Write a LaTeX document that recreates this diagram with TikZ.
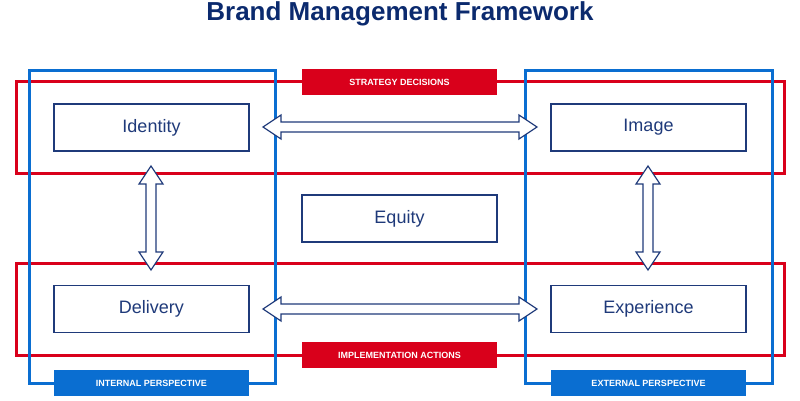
\documentclass[tikz,border=0pt]{standalone}
\usepackage{fontspec}
\setmainfont{Liberation Sans}
\begin{document}
\begin{tikzpicture}[x=1pt,y=-1pt,
  navy/.style={draw=navyc,line width=1.2pt,fill=white},
  box/.style={draw=navyc,line width=1.5pt,fill=white,minimum width=195pt,minimum height=47pt,text=navyc,font=\fontsize{18}{21}\selectfont,inner sep=0pt},
  redlab/.style={fill=redc,text=white,minimum width=195pt,minimum height=26pt,font=\bfseries\fontsize{9}{10}\selectfont,inner sep=0pt},
  bluelab/.style={fill=bluec,text=white,minimum width=195pt,minimum height=26pt,font=\bfseries\fontsize{9}{10}\selectfont,inner sep=0pt},
  redframe/.style={draw=redc,line width=3pt},
  blueframe/.style={draw=bluec,line width=3pt}]
\definecolor{navyc}{HTML}{1F3A7A}
\definecolor{redc}{HTML}{D9001B}
\definecolor{bluec}{HTML}{0A6ED1}
\definecolor{titlec}{HTML}{0B2A6E}
\useasboundingbox (0,0) rectangle (800,400);
\node[font=\bfseries\fontsize{26}{30}\selectfont,text=titlec] (title) at (400,14) {Brand Management Framework};
\draw[redframe] (16,81) rectangle (784,173);
\draw[redframe] (16,263) rectangle (784,355);
\draw[blueframe] (29,70) rectangle (275,383);
\draw[blueframe] (525,70) rectangle (772,383);
\node[redlab] (sd) at (399.5,82) {STRATEGY DECISIONS};
\node[redlab] (ia) at (399.5,355) {IMPLEMENTATION ACTIONS};
\node[bluelab] (ip) at (151.5,383) {INTERNAL PERSPECTIVE};
\node[bluelab] (ep) at (648.5,383) {EXTERNAL PERSPECTIVE};
\node[box] (identity) at (151.5,127.5) {Identity};
\node[box] (delivery) at (151.5,309) {Delivery};
\node[box] (image) at (648.5,127.5) {Image};
\node[box] (experience) at (648.5,309) {Experience};
\node[box] (equity) at (399.5,218.5) {Equity};
\foreach \y in {127,309}{
 \draw[navy] (263,\y) -- (281,\y-12) -- (281,\y-5) -- (519,\y-5) -- (519,\y-12) -- (537,\y) -- (519,\y+12) -- (519,\y+5) -- (281,\y+5) -- (281,\y+12) -- cycle;}
\foreach \x in {151,648}{
 \draw[navy] (\x,166) -- (\x+12,184) -- (\x+5,184) -- (\x+5,252) -- (\x+12,252) -- (\x,270) -- (\x-12,252) -- (\x-5,252) -- (\x-5,184) -- (\x-12,184) -- cycle;}
\end{tikzpicture}
\end{document}
